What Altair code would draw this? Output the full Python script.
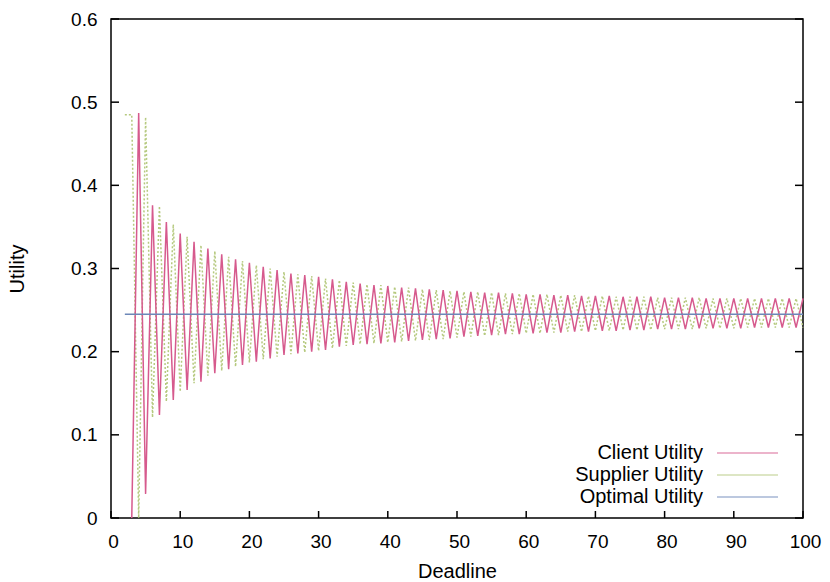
import altair as alt
import pandas as pd

# ---------------- data ----------------
client_deadline = list(range(3, 101))
client_utility = [
    0.000,
    0.487, 0.029, 0.376, 0.124, 0.356, 0.142, 0.342, 0.154, 0.332, 0.164,
    0.324, 0.174, 0.317, 0.179, 0.311, 0.184, 0.307, 0.188, 0.302, 0.192,
    0.298, 0.196, 0.294, 0.198, 0.292, 0.200, 0.290, 0.202, 0.287, 0.206,
    0.284, 0.208, 0.282, 0.209, 0.280, 0.210, 0.279, 0.211, 0.277, 0.213,
    0.276, 0.214, 0.275, 0.215, 0.274, 0.216, 0.273, 0.218, 0.272, 0.219,
    0.271, 0.220, 0.271, 0.221, 0.270, 0.221, 0.269, 0.222, 0.269, 0.223,
    0.268, 0.223, 0.268, 0.224, 0.267, 0.224, 0.267, 0.225, 0.267, 0.225,
    0.266, 0.226, 0.266, 0.226, 0.266, 0.227, 0.265, 0.227, 0.265, 0.227,
    0.265, 0.228, 0.264, 0.228, 0.264, 0.228, 0.264, 0.228, 0.264, 0.229,
    0.264, 0.229, 0.264, 0.229, 0.264, 0.229, 0.264,
]

supplier_deadline = list(range(2, 101))
supplier_utility = [
    0.485, 0.485,
    0.000, 0.482, 0.121, 0.375, 0.140, 0.353, 0.152, 0.338, 0.162, 0.328,
    0.171, 0.321, 0.177, 0.314, 0.182, 0.309, 0.187, 0.304, 0.191, 0.300,
    0.194, 0.296, 0.197, 0.293, 0.199, 0.291, 0.201, 0.288, 0.204, 0.286,
    0.207, 0.283, 0.209, 0.281, 0.210, 0.280, 0.211, 0.278, 0.212, 0.277,
    0.213, 0.275, 0.214, 0.274, 0.215, 0.273, 0.217, 0.272, 0.218, 0.272,
    0.219, 0.271, 0.220, 0.270, 0.221, 0.270, 0.222, 0.269, 0.222, 0.269,
    0.223, 0.268, 0.224, 0.268, 0.224, 0.267, 0.225, 0.267, 0.225, 0.266,
    0.226, 0.266, 0.226, 0.266, 0.226, 0.265, 0.227, 0.265, 0.227, 0.265,
    0.227, 0.265, 0.228, 0.264, 0.228, 0.264, 0.228, 0.264, 0.229, 0.264,
    0.229, 0.264, 0.229, 0.264, 0.229, 0.264, 0.229,
]

optimal_deadline = [2, 100]
optimal_utility = [0.245, 0.245]

series_names = ["Client Utility", "Supplier Utility", "Optimal Utility"]
series_colors = ["#d65a8d", "#b5c97e", "#6d87b8"]

x_ticks = [0, 10, 20, 30, 40, 50, 60, 70, 80, 90, 100]
y_ticks = [0, 0.1, 0.2, 0.3, 0.4, 0.5, 0.6]

# ---------------- layout ----------------
W, H = 692, 499
FONT = "Liberation Sans"

df_client = pd.DataFrame({"Deadline": client_deadline, "Utility": client_utility,
                          "Series": series_names[0]})
df_supplier = pd.DataFrame({"Deadline": supplier_deadline, "Utility": supplier_utility,
                            "Series": series_names[1]})
df_optimal = pd.DataFrame({"Deadline": optimal_deadline, "Utility": optimal_utility,
                           "Series": series_names[2]})

x_scale = alt.Scale(domain=[0, 100], nice=False, zero=False)
y_scale = alt.Scale(domain=[0, 0.6], nice=False, zero=False)
color_scale = alt.Scale(domain=series_names, range=series_colors)

x_axis = alt.Axis(values=x_ticks, format="d", title="Deadline", grid=False, domain=False,
                  ticks=False, tickSize=0, labelPadding=14, labelOffset=2, labelFont=FONT,
                  labelFontSize=19, labelColor="black", labelFlush=False, titleFont=FONT,
                  titleFontSize=20, titleFontWeight="normal", titleColor="black",
                  titleBaseline="alphabetic", titleY=59)
y_axis = alt.Axis(values=y_ticks, format="~g", title="Utility", grid=False, domain=False,
                  ticks=False, tickSize=0, labelPadding=14, labelFont=FONT, labelFontSize=19,
                  labelColor="black", labelFlush=False, titleFont=FONT, titleFontSize=20,
                  titleFontWeight="normal", titleColor="black", titleBaseline="alphabetic",
                  titleX=-88, titleY=H / 2)

legend = alt.Legend(title=None, orient="none", legendX=572, legendY=424,
                    symbolType="M4.8,0H17.0", symbolSize=100, symbolStrokeWidth=1.3,
                    symbolOpacity=0.6, symbolOffset=0, labelOffset=0, labelAlign="right",
                    labelFont=FONT, labelFontSize=20, labelColor="black", labelLimit=400,
                    rowPadding=2, padding=0)

x_enc = alt.X("Deadline:Q", scale=x_scale, axis=x_axis)
y_enc = alt.Y("Utility:Q", scale=y_scale, axis=y_axis)


def series_layer(df, **mark_kw):
    return alt.Chart(df).mark_line(**mark_kw).encode(
        x=x_enc, y=y_enc,
        color=alt.Color("Series:N", scale=color_scale, legend=legend),
    )


supplier_layer = series_layer(df_supplier, strokeWidth=1.5, strokeDash=[2, 2])
client_layer = series_layer(df_client, strokeWidth=1.5)
optimal_layer = series_layer(df_optimal, strokeWidth=1.6)

# inward tick marks (gnuplot style) drawn at the tick values through the scales
yt = pd.DataFrame({"Utility": y_ticks})
xt = pd.DataFrame({"Deadline": x_ticks})
tick_kw = dict(color="black", strokeWidth=1.5)

left_ticks = alt.Chart(yt).mark_rule(**tick_kw).encode(
    y=y_enc, x=alt.value(0), x2=alt.value(8))
right_ticks = alt.Chart(yt).mark_rule(**tick_kw).encode(
    y=y_enc, x=alt.value(W - 8), x2=alt.value(W))
bottom_ticks = alt.Chart(xt).mark_rule(**tick_kw).encode(
    x=x_enc, y=alt.value(H - 7), y2=alt.value(H))

chart = alt.layer(
    supplier_layer, client_layer, optimal_layer, left_ticks, right_ticks, bottom_ticks
).properties(
    width=W, height=H,
    padding={"left": 111, "top": 19, "right": 27, "bottom": 64},
    autosize=alt.AutoSizeParams(type="none"),
    background="white",
).configure(
    font=FONT,
    view=alt.ViewConfig(stroke="black", strokeWidth=1.5),
)

chart.save("out.html", embed_options={"renderer": "svg", "actions": False})
